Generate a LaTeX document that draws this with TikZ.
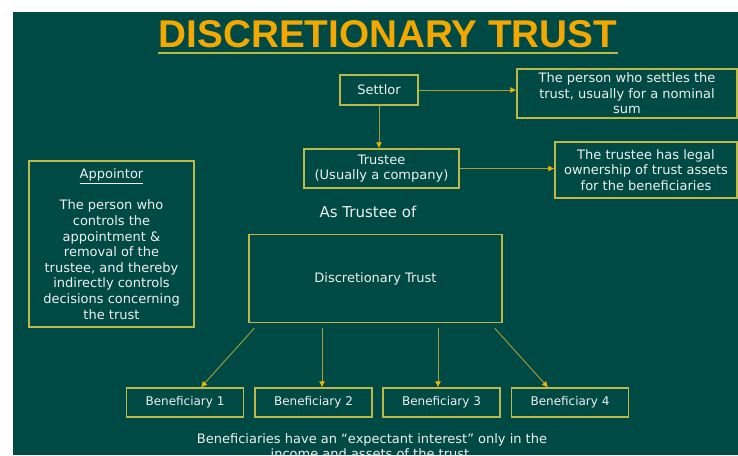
\documentclass[tikz,border=0pt]{standalone}
\usepackage{fontspec}
\setmainfont{DejaVu Sans}
\newfontfamily\titlefont{Liberation Sans}
\usetikzlibrary{arrows.meta,positioning,calc}

\definecolor{trustbg}{RGB}{0,74,69}
\definecolor{boxline}{RGB}{190,185,70}
\definecolor{titleorange}{RGB}{242,168,0}
\definecolor{arrowline}{RGB}{165,160,55}
\definecolor{tiporange}{RGB}{240,180,0}
\definecolor{textwhite}{RGB}{238,240,238}

\begin{document}
\begin{tikzpicture}[x=1pt,y=-1pt,
	infobox/.style={draw=boxline, line width=1.3pt, text=textwhite, align=center,
		font=\fontsize{13}{15.6}\selectfont, inner sep=0pt},
	benbox/.style={infobox, minimum width=117pt, minimum height=29pt,
		font=\fontsize{12}{14}\selectfont},
	link/.style={draw=arrowline, line width=0.9pt,
		-{Latex[length=6pt,width=6pt,color=tiporange]}}]
	\useasboundingbox (0,0) rectangle (738,455);
	\fill[white] (0,0) rectangle (738,455);
	\clip (0,0) rectangle (738,455);
	\fill[trustbg] (13,12) rectangle (738,455);
	
	% Draw title
	\node (title) [text=titleorange, inner sep=0pt, anchor=base,
		font=\titlefont\bfseries\fontsize{38.7}{40}\selectfont] at (388,47) {DISCRETIONARY TRUST};
	\draw[boxline, line width=2pt] ([yshift=-6pt]title.base west) -- ([yshift=-6pt]title.base east);
	
	% Settlor and trustee
	\node (settlor) [infobox, minimum width=78pt, minimum height=30pt] at (379,90) {Settlor};
	\node (settles) [infobox, minimum width=220pt, minimum height=49pt] at (627,93.5)
	{The person who settles the\\trust, usually for a nominal\\sum};
	\node (trustee) [infobox, minimum width=155pt, minimum height=39pt] at (381.5,168.5)
	{Trustee\\(Usually a company)};
	\node (ownership) [infobox, minimum width=182pt, minimum height=56pt] at (646,170)
	{The trustee has legal\\ownership of trust assets\\for the beneficiaries};
	\node (astrustee) [text=textwhite, font=\fontsize{15}{18}\selectfont] at (368,212) {As Trustee of};
	
	\node (appointor) [infobox, minimum width=165pt, minimum height=166pt] at (111.5,244)
	{\underline{Appointor}\\[15.6pt]The person who\\controls the\\appointment \&\\removal of the\\trustee, and thereby\\indirectly controls\\decisions concerning\\the trust};
	
	\node (dtrust) [infobox, minimum width=253pt, minimum height=88pt] at (375.5,278.5) {Discretionary Trust};
	
	% Beneficiaries
	\foreach \i/\x in {1/185,2/313.5,3/441.5,4/570}
		\node (b\i) [benbox] at (\x,402.5) {Beneficiary \i};
	
	\node (note) [text=textwhite, align=center, font=\fontsize{13}{15.6}\selectfont] at (372,446)
	{Beneficiaries have an “expectant interest” only in the\\income and assets of the trust.};
	
	% Draw arrows
	\draw[link] (settlor.east) -- (settlor.east -| settles.west);
	\draw[link] (settlor.south) -- (settlor.south |- trustee.north);
	\draw[link] (trustee.east) -- (trustee.east -| ownership.west);
	\draw[link] ([xshift=6pt,yshift=-5pt]dtrust.south west) -- ([xshift=16pt]b1.north);
	\draw[link] ($(b2.north |- dtrust.south)+(8.5,5)$) -- ([xshift=8.5pt]b2.north);
	\draw[link] ($(b3.north |- dtrust.south)+(-3.5,5)$) -- ([xshift=-3.5pt]b3.north);
	\draw[link] ([xshift=-8pt,yshift=-5pt]dtrust.south east) -- ([xshift=-22pt]b4.north);
\end{tikzpicture}
\end{document}
